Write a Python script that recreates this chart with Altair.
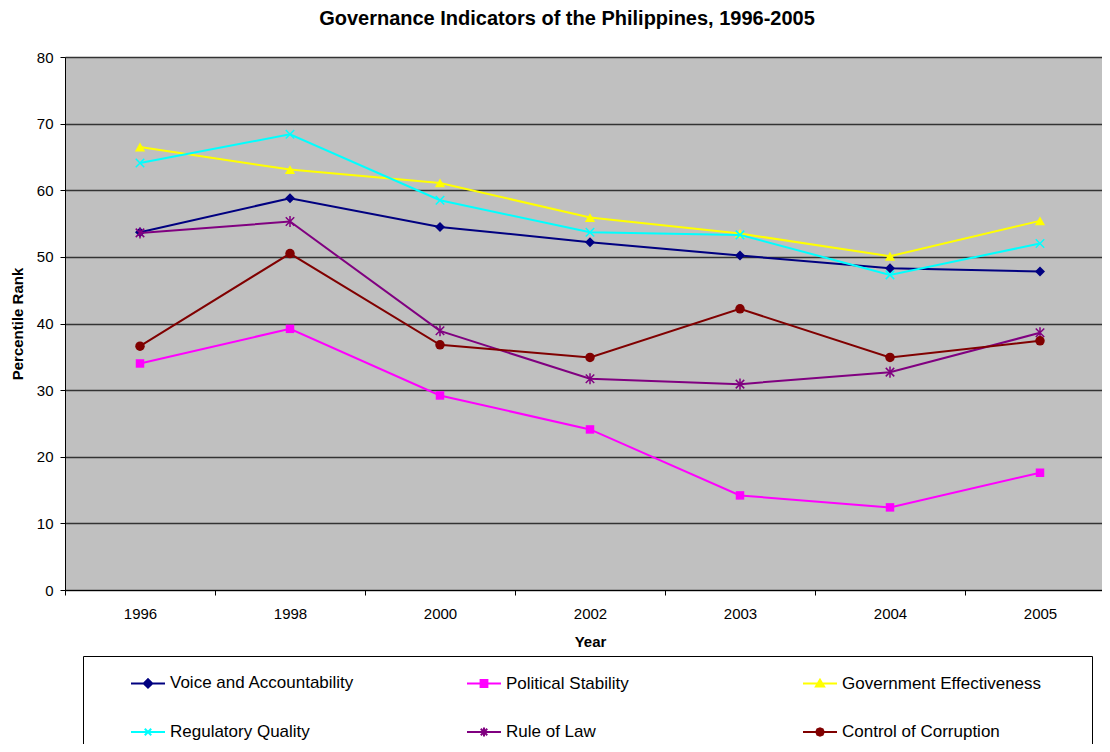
import altair as alt
import pandas as pd

# ---- data ----
years = ["1996", "1998", "2000", "2002", "2003", "2004", "2005"]
series_names = [
    "Voice and Accountability",
    "Political Stability",
    "Government Effectiveness",
    "Regulatory Quality",
    "Rule of Law",
    "Control of Corruption",
]
voice = [53.7, 58.8, 54.5, 52.2, 50.2, 48.3, 47.8]
political = [34.0, 39.2, 29.2, 24.1, 14.2, 12.4, 17.6]
government = [66.5, 63.1, 61.1, 55.9, 53.5, 50.1, 55.4]
regulatory = [64.1, 68.4, 58.5, 53.7, 53.3, 47.3, 52.0]
rule_of_law = [53.6, 55.3, 38.9, 31.7, 30.9, 32.7, 38.6]
corruption = [36.6, 50.5, 36.8, 34.9, 42.2, 34.9, 37.4]

colors = ["#000080", "#FF00FF", "#FFFF00", "#00FFFF", "#800080", "#800000"]

values = [voice, political, government, regulatory, rule_of_law, corruption]
rows = []
for name, vals in zip(series_names, values):
    for yr, v in zip(years, vals):
        rows.append({"year": yr, "series": name, "value": v})
df = pd.DataFrame(rows)

FONT = "Liberation Sans"

# marker styles per series (shape, filled, size)
marker_style = {
    "Voice and Accountability": ("diamond", True, 100),
    "Political Stability": ("square", True, 72),
    "Government Effectiveness": ("triangle-up", True, 105),
    "Regulatory Quality": ("M-1,-1L1,1M-1,1L1,-1", False, 72),
    "Rule of Law": ("M-1,-1L1,1M-1,1L1,-1M0,-1.3V1.3", False, 72),
    "Control of Corruption": ("circle", True, 90),
}

# legend symbols: a line with the marker in its middle
# (the trailing move-to only widens each legend entry's box, drawing nothing)
pad_move = "M15.22,0"
legend_paths = [
    "M-1,0H1M0,-0.25L0.25,0L0,0.25L-0.25,0Z" + pad_move,
    "M-1,0H1M-0.2,-0.2H0.2V0.2H-0.2Z" + pad_move,
    "M-1,0H1M0,-0.22L0.24,0.18H-0.24Z" + pad_move,
    "M-1,0H1M-0.19,-0.19L0.19,0.19M-0.19,0.19L0.19,-0.19" + pad_move,
    "M-1,0H1M-0.19,-0.19L0.19,0.19M-0.19,0.19L0.19,-0.19M0,-0.26V0.26" + pad_move,
    "M-1,0H1M-0.22,0L-0.156,-0.156L0,-0.22L0.156,-0.156L0.22,0L0.156,0.156L0,0.22L-0.156,0.156Z" + pad_move,
]

x_enc = alt.X(
    "year:O",
    sort=years,
    scale=alt.Scale(type="band", paddingInner=0, paddingOuter=0),
    axis=alt.Axis(
        title="Year",
        labelAngle=0,
        tickBand="extent",
        grid=False,
        tickSize=5,
        tickColor="black",
        domainColor="black",
        labelFontSize=15,
        labelFont=FONT,
        labelColor="black",
        labelPadding=11,
        titleFont=FONT,
        titleFontSize=15,
        titleFontWeight="bold",
        titleColor="black",
        titlePadding=13,
    ),
)
y_enc = alt.Y(
    "value:Q",
    scale=alt.Scale(domain=[0, 80], nice=False),
    axis=alt.Axis(
        title="Percentile Rank",
        values=[0, 10, 20, 30, 40, 50, 60, 70, 80],
        grid=True,
        gridColor="#333333",
        gridWidth=1.3,
        tickSize=5,
        tickColor="black",
        domainColor="black",
        labelFontSize=15,
        labelFont=FONT,
        labelColor="black",
        labelPadding=7,
        titleFont=FONT,
        titleFontSize=15,
        titleFontWeight="bold",
        titleColor="black",
        titlePadding=11,
    ),
)

layers = []
for name, col in zip(series_names, colors):
    shape, filled, size = marker_style[name]
    base = alt.Chart(df).transform_filter(alt.datum.series == name)
    layers.append(base.mark_line(strokeWidth=2, color=col).encode(x=x_enc, y=y_enc))
    layers.append(
        base.mark_point(
            shape=shape, filled=filled, size=size, strokeWidth=1.5, opacity=1, color=col
        ).encode(x=x_enc, y=y_enc)
    )

legend_def = alt.Legend(
    title=None,
    orient="none",
    legendX=18,
    legendY=599,
    direction="horizontal",
    columns=3,
    gridAlign="all",
    columnPadding=17,
    rowPadding=22,
    padding=9,
    fillColor="white",
    strokeColor="black",
    symbolSize=1156,
    symbolStrokeWidth=2,
    symbolOffset=38,
    symbolOpacity=1,
    labelOffset=4,
    labelFont=FONT,
    labelFontSize=17,
    labelColor="black",
    labelLimit=400,
)

# invisible layer whose only job is to carry the legend
legend_layer = (
    alt.Chart(df)
    .mark_point(filled=True, opacity=0, size=1)
    .encode(
        x=x_enc,
        y=y_enc,
        shape=alt.Shape("series:N", scale=alt.Scale(domain=series_names, range=legend_paths), legend=legend_def),
        fill=alt.Fill("series:N", scale=alt.Scale(domain=series_names, range=colors), legend=legend_def),
        stroke=alt.Stroke("series:N", scale=alt.Scale(domain=series_names, range=colors), legend=legend_def),
    )
)

chart = (
    alt.layer(*layers, legend_layer)
    .properties(
        width=1050,
        height=533,
        title=alt.Title(
            "Governance Indicators of the Philippines, 1996-2005",
            font=FONT,
            fontSize=20,
            fontWeight="bold",
            color="black",
            anchor="middle",
            dx=-23,
            offset=21,
        ),
        autosize=alt.AutoSizeParams(type="none"),
        padding={"left": 57, "top": 49, "right": -13, "bottom": 154},
        background="white",
    )
    .configure_view(fill="#C0C0C0", stroke=None)
)

chart.save("out.html", embed_options={"renderer": "svg", "actions": False})
